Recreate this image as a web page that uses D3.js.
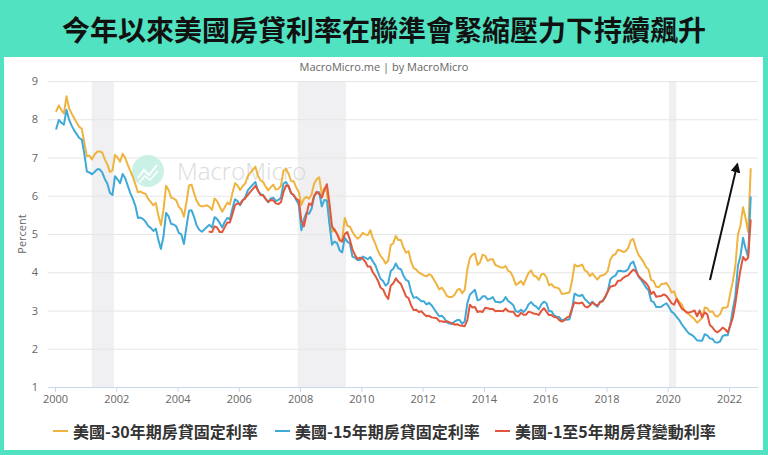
<!DOCTYPE html>
<html><head><meta charset="utf-8">
<script src="https://cdn.jsdelivr.net/npm/d3@7"></script>
<style>
html,body{margin:0;padding:0;background:#50e2c1;overflow:hidden;}
svg{display:block;}
</style></head><body>
<svg id="chart" width="768" height="455"></svg>
<script>
// ---------------- DATA ----------------
const titleText = "今年以來美國房貸利率在聯準會緊縮壓力下持續飆升";
const sourceText = "MacroMicro.me | by MacroMicro";
const yAxisTitle = "Percent";
const watermarkText = "MacroMicro";
const seriesNames = ["美國-30年期房貸固定利率", "美國-15年期房貸固定利率", "美國-1至5年期房貸變動利率"];
const xTickYears = [2000, 2002, 2004, 2006, 2008, 2010, 2012, 2014, 2016, 2018, 2020, 2022];
const yTickValues = [1, 2, 3, 4, 5, 6, 7, 8, 9];
// recession bands (decimal years)
const recessionStart = [2001.2, 2007.92, 2020.04];
const recessionEnd   = [2001.92, 2009.5, 2020.28];
// annotation arrow (decimal year, percent)
const arrowFrom = [2021.38, 3.80];
const arrowTo   = [2022.27, 6.82];

// monthly values, first month = January of the start year
const rate30Start = 2000;
const rate30 = [
  8.21, 8.36, 8.24, 8.15, 8.60, 8.29, 8.15, 8.03, 7.91, 7.80, 7.75, 7.38,
  7.03, 7.05, 6.95, 7.08, 7.15, 7.16, 7.13, 6.95, 6.82, 6.62, 6.66, 7.07,
  7.00, 6.89, 7.10, 6.99, 6.81, 6.65, 6.49, 6.29, 6.09, 6.11, 6.07, 6.05,
  5.92, 5.84, 5.75, 5.81, 5.48, 5.23, 5.63, 6.26, 6.15, 5.95, 5.93, 5.88,
  5.71, 5.64, 5.45, 5.83, 6.27, 6.29, 6.06, 5.87, 5.75, 5.72, 5.73, 5.75,
  5.71, 5.63, 5.93, 5.86, 5.72, 5.58, 5.70, 5.82, 5.77, 6.07, 6.33, 6.27,
  6.15, 6.25, 6.32, 6.51, 6.60, 6.68, 6.76, 6.52, 6.40, 6.36, 6.24, 6.14,
  6.22, 6.29, 6.16, 6.18, 6.26, 6.66, 6.70, 6.57, 6.38, 6.38, 6.21, 6.10,
  5.76, 5.92, 5.97, 5.92, 6.04, 6.32, 6.43, 6.48, 6.04, 6.20, 6.09, 5.33,
  5.06, 5.13, 5.00, 4.81, 4.86, 5.42, 5.22, 5.19, 5.06, 4.95, 4.88, 4.93,
  5.03, 4.99, 4.97, 5.10, 4.89, 4.74, 4.56, 4.43, 4.35, 4.23, 4.30, 4.71,
  4.76, 4.95, 4.84, 4.84, 4.64, 4.51, 4.55, 4.27, 4.11, 4.07, 3.99, 3.96,
  3.92, 3.89, 3.95, 3.91, 3.80, 3.68, 3.55, 3.60, 3.50, 3.38, 3.35, 3.35,
  3.41, 3.53, 3.57, 3.45, 3.54, 4.07, 4.37, 4.46, 4.49, 4.19, 4.26, 4.46,
  4.43, 4.30, 4.34, 4.34, 4.19, 4.16, 4.13, 4.12, 4.16, 4.04, 4.00, 3.86,
  3.67, 3.71, 3.77, 3.67, 3.84, 3.98, 4.05, 3.91, 3.89, 3.80, 3.94, 3.96,
  3.87, 3.66, 3.69, 3.61, 3.60, 3.57, 3.44, 3.44, 3.46, 3.47, 3.77, 4.20,
  4.15, 4.17, 4.20, 4.05, 4.01, 3.90, 3.97, 3.88, 3.81, 3.90, 3.92, 3.95,
  4.03, 4.33, 4.44, 4.47, 4.59, 4.57, 4.53, 4.55, 4.63, 4.83, 4.87, 4.64,
  4.46, 4.37, 4.27, 4.14, 4.07, 3.80, 3.77, 3.62, 3.61, 3.69, 3.70, 3.72,
  3.62, 3.47, 3.50, 3.31, 3.23, 3.16, 3.02, 2.94, 2.89, 2.83, 2.77, 2.68,
  2.74, 2.81, 3.08, 3.06, 2.96, 2.98, 2.87, 2.84, 2.90, 3.07, 3.07, 3.10,
  3.45, 3.76, 4.17, 4.98, 5.23, 5.70, 5.41, 5.05, 6.70
];
const rate15Start = 2000;
const rate15 = [
  7.75, 7.98, 7.91, 7.86, 8.25, 7.99, 7.84, 7.71, 7.61, 7.51, 7.47, 7.09,
  6.63, 6.61, 6.56, 6.62, 6.69, 6.69, 6.61, 6.44, 6.32, 6.08, 6.02, 6.51,
  6.43, 6.33, 6.57, 6.46, 6.26, 6.07, 5.92, 5.73, 5.42, 5.43, 5.39, 5.32,
  5.21, 5.16, 5.08, 5.14, 4.84, 4.61, 4.94, 5.55, 5.46, 5.26, 5.25, 5.20,
  5.03, 4.99, 4.74, 5.19, 5.61, 5.62, 5.44, 5.22, 5.11, 5.06, 5.12, 5.18,
  5.24, 5.17, 5.44, 5.39, 5.29, 5.17, 5.32, 5.42, 5.38, 5.66, 5.91, 5.86,
  5.75, 5.88, 5.96, 6.14, 6.22, 6.29, 6.36, 6.13, 6.04, 6.02, 5.92, 5.83,
  5.93, 5.95, 5.86, 5.89, 5.95, 6.32, 6.36, 6.23, 6.06, 6.02, 5.89, 5.77,
  5.10, 5.38, 5.56, 5.53, 5.66, 5.98, 6.08, 6.09, 5.72, 5.89, 5.87, 5.26,
  4.72, 4.80, 4.76, 4.57, 4.52, 4.90, 4.80, 4.75, 4.41, 4.38, 4.32, 4.32,
  4.41, 4.38, 4.34, 4.40, 4.28, 4.18, 4.00, 3.83, 3.77, 3.65, 3.71, 4.03,
  4.09, 4.23, 4.10, 4.08, 3.91, 3.80, 3.76, 3.48, 3.33, 3.35, 3.30, 3.24,
  3.24, 3.16, 3.20, 3.14, 3.04, 2.94, 2.85, 2.86, 2.80, 2.69, 2.66, 2.65,
  2.71, 2.75, 2.75, 2.65, 2.72, 3.19, 3.41, 3.48, 3.54, 3.27, 3.29, 3.37,
  3.37, 3.29, 3.31, 3.35, 3.23, 3.22, 3.21, 3.25, 3.35, 3.25, 3.20, 3.14,
  2.98, 2.96, 3.02, 2.96, 3.03, 3.16, 3.22, 3.14, 3.10, 3.03, 3.16, 3.23,
  3.19, 2.98, 2.98, 2.87, 2.84, 2.83, 2.74, 2.77, 2.76, 2.77, 3.02, 3.44,
  3.40, 3.38, 3.41, 3.30, 3.24, 3.17, 3.23, 3.15, 3.10, 3.23, 3.25, 3.34,
  3.50, 3.81, 3.88, 3.91, 4.03, 4.04, 4.02, 4.03, 4.08, 4.23, 4.28, 4.09,
  3.89, 3.81, 3.71, 3.60, 3.53, 3.25, 3.22, 3.09, 3.09, 3.10, 3.15, 3.19,
  3.09, 2.97, 2.92, 2.83, 2.75, 2.64, 2.55, 2.46, 2.39, 2.36, 2.30, 2.22,
  2.21, 2.21, 2.38, 2.35, 2.27, 2.26, 2.17, 2.16, 2.19, 2.33, 2.36, 2.35,
  2.62, 3.03, 3.39, 4.17, 4.43, 4.90, 4.62, 4.40, 5.96
];
const arm5Start = 2005;
const arm5 = [
  5.06, 5.05, 5.20, 5.17, 5.05, 5.05, 5.18, 5.30, 5.30, 5.52, 5.75, 5.80,
  5.78, 5.88, 5.93, 6.02, 6.10, 6.18, 6.26, 6.14, 6.02, 6.01, 5.92, 5.84,
  5.89, 5.88, 5.80, 5.78, 5.83, 6.10, 6.27, 6.26, 6.07, 6.01, 5.92, 5.88,
  5.35, 5.20, 5.50, 5.80, 5.75, 6.00, 6.10, 6.05, 5.95, 6.15, 6.30, 5.80,
  5.20, 5.10, 5.00, 4.85, 4.80, 5.00, 5.05, 4.85, 4.60, 4.45, 4.35, 4.38,
  4.35, 4.28, 4.15, 4.15, 4.00, 3.90, 3.78, 3.60, 3.55, 3.40, 3.30, 3.65,
  3.71, 3.84, 3.75, 3.69, 3.53, 3.37, 3.32, 3.13, 3.01, 3.02, 2.96, 2.98,
  2.91, 2.85, 2.86, 2.82, 2.81, 2.80, 2.72, 2.72, 2.70, 2.72, 2.69, 2.67,
  2.63, 2.64, 2.61, 2.60, 2.59, 2.75, 3.15, 3.08, 3.09, 2.96, 2.98, 2.96,
  3.07, 3.06, 3.04, 3.04, 2.98, 2.99, 2.99, 2.98, 3.05, 2.98, 2.97, 2.97,
  2.87, 2.85, 2.94, 2.89, 2.89, 2.97, 2.95, 2.92, 2.91, 2.88, 2.99, 3.06,
  2.97, 2.88, 2.88, 2.83, 2.82, 2.75, 2.71, 2.74, 2.82, 2.84, 3.05, 3.21,
  3.19, 3.19, 3.21, 3.11, 3.08, 3.13, 3.21, 3.16, 3.13, 3.22, 3.24, 3.36,
  3.49, 3.62, 3.64, 3.66, 3.78, 3.78, 3.85, 3.89, 3.92, 4.00, 4.07, 4.02,
  3.91, 3.84, 3.78, 3.72, 3.62, 3.43, 3.49, 3.36, 3.37, 3.38, 3.42, 3.38,
  3.29, 3.19, 3.15, 3.30, 3.17, 3.05, 3.00, 2.95, 2.95, 2.97, 3.00, 2.85,
  3.00, 2.82, 2.95, 2.90, 2.62, 2.56, 2.47, 2.43, 2.48, 2.55, 2.51, 2.43,
  2.61, 2.81, 3.19, 3.65, 4.06, 4.40, 4.31, 4.38, 5.36
];

// ---------------- STYLE / LAYOUT ----------------
const colors = ["#efb43f", "#3fa9d8", "#e2573b"];
const W = 768, H = 455;
const plotLeft = 48, plotRight = 758, plotTop = 81, plotBottom = 387;
const legendX = [53, 275, 495];
const legendY = 431;

const svg = d3.select("#chart");

// outer panel
svg.append("rect").attr("x", 0).attr("y", 0).attr("width", W).attr("height", H).attr("fill", "#50e2c1");
svg.append("rect").attr("x", 4).attr("y", 57).attr("width", 759).attr("height", 393).attr("fill", "#ffffff");

svg.append("text").attr("x", W / 2).attr("y", 29)
  .attr("text-anchor", "middle").attr("dominant-baseline", "central")
  .attr("font-family", "'Noto Sans CJK TC','Noto Sans CJK SC',sans-serif")
  .attr("font-weight", 700).attr("font-size", 28).attr("fill", "#111")
  .text(titleText);

svg.append("text").attr("x", W / 2).attr("y", 66)
  .attr("text-anchor", "middle").attr("dominant-baseline", "central")
  .attr("font-family", "'Open Sans',sans-serif").attr("font-size", 11).attr("fill", "#666")
  .text(sourceText);

// scales
const x = d3.scaleLinear().domain([2000, 2022]).range([55, 729]);
const y = d3.scaleLinear().domain([1, 9]).range([plotBottom, plotTop]);

// recession bands
svg.append("g").selectAll("rect").data(recessionStart.map((s, i) => [s, recessionEnd[i]]))
  .join("rect")
  .attr("x", d => x(d[0])).attr("width", d => x(d[1]) - x(d[0]))
  .attr("y", plotTop).attr("height", plotBottom - plotTop)
  .attr("fill", "#f0f0f3");

// y axis with grid
const yAxis = svg.append("g").attr("transform", `translate(${plotLeft},0)`)
  .call(d3.axisLeft(y).tickValues(yTickValues).tickSize(-(plotRight - plotLeft)).tickPadding(10).tickFormat(d3.format("d")));
yAxis.select(".domain").remove();
yAxis.selectAll(".tick line").attr("stroke", d => d === 1 ? "#ccd6eb" : "#e6e6e6");
yAxis.selectAll(".tick text").attr("font-family", "'Open Sans',sans-serif").attr("font-size", 11).attr("fill", "#666");

svg.append("text")
  .attr("transform", `translate(21,${(plotTop + plotBottom) / 2}) rotate(-90)`)
  .attr("text-anchor", "middle").attr("dominant-baseline", "central")
  .attr("font-family", "'Open Sans',sans-serif").attr("font-size", 11).attr("fill", "#666")
  .text(yAxisTitle);

// x axis
const xAxis = svg.append("g").attr("transform", `translate(0,${plotBottom})`)
  .call(d3.axisBottom(x).tickValues(xTickYears).tickSize(5).tickPadding(3).tickFormat(d3.format("d")));
xAxis.select(".domain").remove();
xAxis.selectAll(".tick line").attr("stroke", "#ccd6eb");
xAxis.selectAll(".tick text").attr("font-family", "'Open Sans',sans-serif").attr("font-size", 11).attr("fill", "#666");

// watermark
const wm = svg.append("g").attr("opacity", 0.85);
wm.append("circle").attr("cx", 148).attr("cy", 171).attr("r", 16).attr("fill", "#c3efe2");
wm.append("polyline").attr("points", "138,178 144,170 149,175 157,165")
  .attr("fill", "none").attr("stroke", "#fff").attr("stroke-width", 2);
wm.append("polyline").attr("points", "139,183 145,176 150,180 158,171")
  .attr("fill", "none").attr("stroke", "#fff").attr("stroke-width", 1.5);
wm.append("text").attr("x", 177).attr("y", 180)
  .attr("font-family", "'Open Sans',sans-serif").attr("font-weight", 300).attr("font-size", 24)
  .attr("fill", "#d6d6d6").text(watermarkText);

// series
function toPoints(start, vals) {
  return vals.map((v, i) => ({ t: start + (i + 0.5) / 12, v: v }));
}
const series = [toPoints(rate30Start, rate30), toPoints(rate15Start, rate15), toPoints(arm5Start, arm5)];
const line = d3.line().x(d => x(d.t)).y(d => y(d.v));
svg.append("g").selectAll("path").data(series).join("path")
  .attr("d", line).attr("fill", "none")
  .attr("stroke", (d, i) => colors[i]).attr("stroke-width", 2)
  .attr("stroke-linejoin", "round").attr("stroke-linecap", "round");

// arrow annotation
svg.append("defs").append("marker").attr("id", "ah")
  .attr("viewBox", "0 0 10 10").attr("refX", 8).attr("refY", 5)
  .attr("markerWidth", 5).attr("markerHeight", 5).attr("orient", "auto")
  .append("path").attr("d", "M0,0 L10,5 L0,10 z").attr("fill", "#111");
svg.append("line")
  .attr("x1", x(arrowFrom[0])).attr("y1", y(arrowFrom[1]))
  .attr("x2", x(arrowTo[0])).attr("y2", y(arrowTo[1]))
  .attr("stroke", "#111").attr("stroke-width", 2).attr("marker-end", "url(#ah)");

// legend
const lg = svg.append("g").selectAll("g").data(seriesNames).join("g")
  .attr("transform", (d, i) => `translate(${legendX[i]},${legendY})`);
lg.append("line").attr("x1", 0).attr("x2", 15).attr("y1", 0).attr("y2", 0)
  .attr("stroke", (d, i) => colors[i]).attr("stroke-width", 2);
lg.append("text").attr("x", 20).attr("y", 0).attr("dominant-baseline", "central")
  .attr("font-family", "'Noto Sans CJK TC','Noto Sans CJK SC',sans-serif")
  .attr("font-weight", 700).attr("font-size", 16).attr("fill", "#333")
  .text(d => d);
</script>
</body></html>
